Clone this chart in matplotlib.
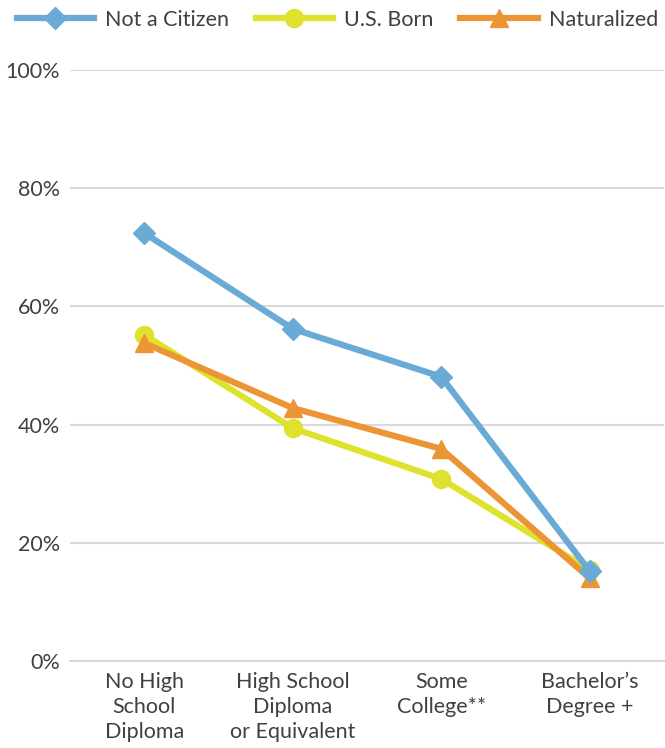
import matplotlib
matplotlib.use('Agg')
import matplotlib.pyplot as plt

plt.rcParams['font.family'] = ['Lato', 'DejaVu Sans']

categories = ['No High\nSchool\nDiploma', 'High School\nDiploma\nor Equivalent',
              'Some\nCollege**', 'Bachelor\u2019s\nDegree +']
not_citizen = [72.4, 56.2, 48.1, 15.2]
us_born = [55.2, 39.4, 30.8, 15.4]
naturalized = [53.8, 42.8, 35.9, 14.0]

c_blue = '#6aaad6'
c_yellow = '#dfe22c'
c_orange = '#eb9535'
txt = '#404040'

fig = plt.figure(figsize=(6.65, 7.48), dpi=100)
ax = fig.add_axes([70/665, 87/748, 594/665, 591/748])

x = range(len(categories))
ax.plot(x, us_born, color=c_yellow, lw=4.5, marker='o', ms=13, label='U.S. Born', zorder=3)
ax.plot(x, naturalized, color=c_orange, lw=4.5, marker='^', ms=13, label='Naturalized', zorder=4)
ax.plot(x, not_citizen, color=c_blue, lw=4.5, marker='D', ms=11, label='Not a Citizen', zorder=5)

ax.set_xlim(-0.5, 3.5)
ax.set_ylim(0, 100)
ax.set_yticks(range(0, 101, 20))
ax.set_yticklabels(['%d%%' % v for v in range(0, 101, 20)])
ax.set_xticks(list(x))
ax.set_xticklabels(categories, linespacing=1.3)
ax.tick_params(axis='both', length=0, labelsize=15.5, colors=txt)
ax.tick_params(axis='x', pad=8)
ax.tick_params(axis='y', pad=7)
ax.grid(axis='y', color='#d9d9d9', lw=1.5)
ax.set_axisbelow(True)
for s in ['top', 'right', 'left']:
    ax.spines[s].set_visible(False)
ax.spines['bottom'].set_color('#d9d9d9')
ax.spines['bottom'].set_linewidth(1.5)

h, l = ax.get_legend_handles_labels()
order = [2, 0, 1]
fig.legend([h[i] for i in order], [l[i] for i in order], loc='center',
           bbox_to_anchor=(0.507, 1 - 20/748), ncol=3, frameon=False,
           fontsize=15.5, labelcolor=txt, handlelength=3.6, columnspacing=1.25,
           handletextpad=0.5, borderpad=0.2, borderaxespad=0)

fig.savefig('out.png', dpi=100)
